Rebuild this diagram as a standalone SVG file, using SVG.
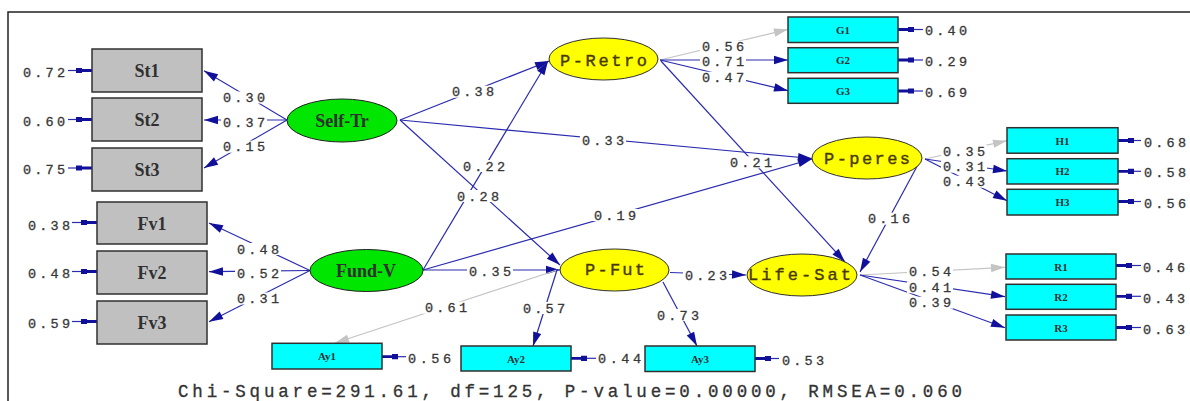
<svg xmlns="http://www.w3.org/2000/svg" width="1190" height="401" viewBox="0 0 1190 401">
<style>
.ln{stroke:#2b2bb0;stroke-width:1.2;fill:none}
.lg{stroke:#c4c4c4;stroke-width:1.2;fill:none}
.t{font-family:"Liberation Mono",monospace;font-size:13.5px;fill:#383838;stroke:#383838;stroke-width:0.3}
.bg{fill:#fff}
.gbox{fill:#c0c0c0;stroke:#303030;stroke-width:1.5}
.cbox{fill:#00ffff;stroke:#303030;stroke-width:1.5}
.gr{fill:#00e600;stroke:#202020;stroke-width:1}
.ye{fill:#ffff00;stroke:#303030;stroke-width:1}
.sn{font-family:"Liberation Serif",serif;font-weight:bold;font-size:18px;fill:#303030;text-anchor:middle}
.cn{font-family:"Liberation Mono",monospace;font-size:17px;fill:#4a3a00;stroke:#4a3a00;stroke-width:0.4}
.sm{font-family:"Liberation Serif",serif;font-weight:bold;font-size:11px;fill:#303030;text-anchor:middle}
.fit{font-family:"Liberation Mono",monospace;font-size:17.5px;fill:#333;stroke:#333;stroke-width:0.3}
</style>
<defs>
<marker id="ah" viewBox="-15 -5 16 10" refX="0" refY="0" markerWidth="16" markerHeight="10" markerUnits="userSpaceOnUse" orient="auto"><path d="M0,0 L-14,-4.2 L-14,4.2 z" fill="#10109a"/></marker>
<marker id="ag" viewBox="-15 -5 16 10" refX="0" refY="0" markerWidth="16" markerHeight="10" markerUnits="userSpaceOnUse" orient="auto"><path d="M0,0 L-14,-4.2 L-14,4.2 z" fill="#c4c4c4"/></marker>
<marker id="ae" viewBox="-18 -4 19 8" refX="0" refY="0" markerWidth="19" markerHeight="8" markerUnits="userSpaceOnUse" orient="auto"><path d="M0,-1.4 L-10,-1.4 L-10,-2.6 L-16,-2.6 L-16,2.6 L-10,2.6 L-10,1.4 L0,1.4 z" fill="#10109a"/></marker>
</defs>
<rect width="1190" height="401" fill="#fff"/>
<path d="M8,401 L8,12 L1190,12" fill="none" stroke="#222" stroke-width="1.5"/>

<g id="connectors">
<path class="ln" d="M287,120 L204,70.7" marker-end="url(#ah)"/>
<path class="ln" d="M287,120 L204,120" marker-end="url(#ah)"/>
<path class="ln" d="M287,120 L204,168" marker-end="url(#ah)"/>
<path class="ln" d="M310,270.5 L209,223" marker-end="url(#ah)"/>
<path class="ln" d="M310,270.5 L209,271.7" marker-end="url(#ah)"/>
<path class="ln" d="M310,270.5 L209,321.7" marker-end="url(#ah)"/>
<path class="ln" d="M400,120 L549,61" marker-end="url(#ah)"/>
<path class="ln" d="M400,120 L812,158.5" marker-end="url(#ah)"/>
<path class="ln" d="M400,120 L560,265" marker-end="url(#ah)"/>
<path class="ln" d="M423,270 L548,61" marker-end="url(#ah)"/>
<path class="ln" d="M423,270 L812,159" marker-end="url(#ah)"/>
<path class="ln" d="M423,270 L560,270" marker-end="url(#ah)"/>
<path class="ln" d="M661,61 L845,262" marker-end="url(#ah)"/>
<path class="ln" d="M921,159 L860,272" marker-end="url(#ah)"/>
<path class="ln" d="M670,272.5 L746,275" marker-end="url(#ah)"/>
<path class="lg" d="M660,60 L788,29.3" marker-end="url(#ag)"/>
<path class="ln" d="M660,60 L788,60" marker-end="url(#ah)"/>
<path class="ln" d="M660,60 L788,90.7" marker-end="url(#ah)"/>
<path class="lg" d="M925,159 L1007,140.7" marker-end="url(#ag)"/>
<path class="ln" d="M925,159 L1007,171" marker-end="url(#ah)"/>
<path class="ln" d="M925,159 L1007,200.7" marker-end="url(#ah)"/>
<path class="lg" d="M860,275 L1005,267.3" marker-end="url(#ag)"/>
<path class="ln" d="M860,275 L1005,296.7" marker-end="url(#ah)"/>
<path class="ln" d="M860,275 L1005,327.7" marker-end="url(#ah)"/>
<path class="lg" d="M557,270 L335,343" marker-end="url(#ag)"/>
<path class="ln" d="M557,270 L533,346" marker-end="url(#ah)"/>
<path class="ln" d="M663,282 L697,346" marker-end="url(#ah)"/>
<path class="ln" d="M68,70.5 L92,70.5" marker-end="url(#ae)"/>
<path class="ln" d="M68,119.5 L92,119.5" marker-end="url(#ae)"/>
<path class="ln" d="M68,168 L92,168" marker-end="url(#ae)"/>
<path class="ln" d="M72,222.5 L97,222.5" marker-end="url(#ae)"/>
<path class="ln" d="M72,271.5 L97,271.5" marker-end="url(#ae)"/>
<path class="ln" d="M72,321.5 L97,321.5" marker-end="url(#ae)"/>
<path class="ln" d="M923,29.5 L898,29.5" marker-end="url(#ae)"/>
<path class="ln" d="M923,60 L898,60" marker-end="url(#ae)"/>
<path class="ln" d="M923,91 L898,91" marker-end="url(#ae)"/>
<path class="ln" d="M1141,140.5 L1118,140.5" marker-end="url(#ae)"/>
<path class="ln" d="M1141,171.3 L1118,171.3" marker-end="url(#ae)"/>
<path class="ln" d="M1141,201.5 L1118,201.5" marker-end="url(#ae)"/>
<path class="ln" d="M1141,265.5 L1116,265.5" marker-end="url(#ae)"/>
<path class="ln" d="M1141,296.3 L1116,296.3" marker-end="url(#ae)"/>
<path class="ln" d="M1141,327.5 L1116,327.5" marker-end="url(#ae)"/>
<path class="ln" d="M406,356.7 L382,356.7" marker-end="url(#ae)"/>
<path class="ln" d="M596,358.3 L571,358.3" marker-end="url(#ae)"/>
<path class="ln" d="M779,358.5 L755,358.5" marker-end="url(#ae)"/>

<g id="labels">
<rect class="bg" x="221" y="91.5" width="46" height="12"/><text class="t" x="223" y="102" textLength="42">0.30</text>
<rect class="bg" x="221" y="116.5" width="46" height="12"/><text class="t" x="223" y="127" textLength="42">0.37</text>
<rect class="bg" x="221" y="140.7" width="46" height="12"/><text class="t" x="223" y="151.2" textLength="42">0.15</text>
<rect class="bg" x="235" y="243" width="46" height="12"/><text class="t" x="237" y="253.5" textLength="42">0.48</text>
<rect class="bg" x="235" y="267" width="46" height="12"/><text class="t" x="237" y="277.5" textLength="42">0.52</text>
<rect class="bg" x="235" y="292.5" width="46" height="12"/><text class="t" x="237" y="303" textLength="42">0.31</text>
<text class="t" x="23" y="76.5" textLength="42">0.72</text>
<text class="t" x="23" y="126" textLength="42">0.60</text>
<text class="t" x="23" y="174" textLength="42">0.75</text>
<text class="t" x="28" y="229.5" textLength="42">0.38</text>
<text class="t" x="28" y="277.8" textLength="42">0.48</text>
<text class="t" x="28" y="327.5" textLength="42">0.59</text>
<rect class="bg" x="450" y="85.7" width="46" height="12"/><text class="t" x="452" y="96.2" textLength="42">0.38</text>
<rect class="bg" x="580" y="134.7" width="46" height="12"/><text class="t" x="582" y="145.2" textLength="42">0.33</text>
<rect class="bg" x="461" y="160" width="46" height="12"/><text class="t" x="463" y="170.5" textLength="42">0.22</text>
<rect class="bg" x="455" y="190" width="46" height="12"/><text class="t" x="457" y="200.5" textLength="42">0.28</text>
<rect class="bg" x="592" y="209" width="46" height="12"/><text class="t" x="594" y="219.5" textLength="42">0.19</text>
<rect class="bg" x="467" y="265.7" width="46" height="12"/><text class="t" x="469" y="276.2" textLength="42">0.35</text>
<rect class="bg" x="728" y="156.3" width="46" height="12"/><text class="t" x="730" y="166.8" textLength="42">0.21</text>
<rect class="bg" x="866" y="212.7" width="46" height="12"/><text class="t" x="868" y="223.2" textLength="42">0.16</text>
<rect class="bg" x="683" y="269" width="46" height="12"/><text class="t" x="685" y="279.5" textLength="42">0.23</text>
<rect class="bg" x="700" y="40.7" width="46" height="12"/><text class="t" x="702" y="51.2" textLength="42">0.56</text>
<rect class="bg" x="700" y="55.7" width="46" height="12"/><text class="t" x="702" y="66.2" textLength="42">0.71</text>
<rect class="bg" x="700" y="71.7" width="46" height="12"/><text class="t" x="702" y="82.2" textLength="42">0.47</text>
<rect class="bg" x="941" y="145" width="46" height="12"/><text class="t" x="943" y="155.5" textLength="42">0.35</text>
<rect class="bg" x="941" y="160.7" width="46" height="12"/><text class="t" x="943" y="171.2" textLength="42">0.31</text>
<rect class="bg" x="941" y="175.7" width="46" height="12"/><text class="t" x="943" y="186.2" textLength="42">0.43</text>
<rect class="bg" x="907" y="265.7" width="46" height="12"/><text class="t" x="909" y="276.2" textLength="42">0.54</text>
<rect class="bg" x="907" y="281.3" width="46" height="12"/><text class="t" x="909" y="291.8" textLength="42">0.41</text>
<rect class="bg" x="907" y="296.7" width="46" height="12"/><text class="t" x="909" y="307.2" textLength="42">0.39</text>
<rect class="bg" x="423" y="301.7" width="46" height="12"/><text class="t" x="425" y="312.2" textLength="42">0.61</text>
<rect class="bg" x="521" y="302" width="46" height="12"/><text class="t" x="523" y="312.5" textLength="42">0.57</text>
<rect class="bg" x="655" y="309" width="46" height="12"/><text class="t" x="657" y="319.5" textLength="42">0.73</text>
<text class="t" x="925" y="35" textLength="42">0.40</text>
<text class="t" x="925" y="65.5" textLength="42">0.29</text>
<text class="t" x="925" y="96.5" textLength="42">0.69</text>
<text class="t" x="1144" y="146.5" textLength="42">0.68</text>
<text class="t" x="1144" y="177" textLength="42">0.58</text>
<text class="t" x="1144" y="208" textLength="42">0.56</text>
<text class="t" x="1143" y="272.2" textLength="42">0.46</text>
<text class="t" x="1143" y="302.8" textLength="42">0.43</text>
<text class="t" x="1143" y="333.8" textLength="42">0.63</text>
<text class="t" x="408" y="362.8" textLength="43">0.56</text>
<text class="t" x="598" y="362.8" textLength="43">0.44</text>
<text class="t" x="782" y="364.5" textLength="42">0.53</text>
</g>
</g>

<g id="St1"><rect class="gbox" x="92" y="49" width="110" height="43"/><text class="sn" x="147" y="76.5">St1</text></g>
<g id="St2"><rect class="gbox" x="92" y="98" width="110" height="43"/><text class="sn" x="147" y="125.5">St2</text></g>
<g id="St3"><rect class="gbox" x="92" y="148" width="110" height="43"/><text class="sn" x="147" y="175.5">St3</text></g>
<g id="Fv1"><rect class="gbox" x="97" y="202" width="110" height="42"/><text class="sn" x="152" y="229.5">Fv1</text></g>
<g id="Fv2"><rect class="gbox" x="97" y="251" width="110" height="43"/><text class="sn" x="152" y="279">Fv2</text></g>
<g id="Fv3"><rect class="gbox" x="97" y="301" width="110" height="43"/><text class="sn" x="152" y="329">Fv3</text></g>

<g id="Self-Tr"><ellipse class="gr" cx="342" cy="120.5" rx="55" ry="21.5"/><text class="sn" x="342" y="127">Self-Tr</text></g>
<g id="Fund-V"><ellipse class="gr" cx="366.5" cy="270.5" rx="56.5" ry="21"/><text class="sn" x="366" y="277">Fund-V</text></g>

<g id="P-Retro"><ellipse class="ye" cx="603.5" cy="59" rx="54.5" ry="21"/><text class="cn" x="560" y="65.5" textLength="87">P-Retro</text></g>
<g id="P-peres"><ellipse class="ye" cx="867" cy="158" rx="55" ry="21"/><text class="cn" x="824" y="163.5" textLength="86">P-peres</text></g>
<g id="P-Fut"><ellipse class="ye" cx="614.5" cy="270" rx="54.5" ry="21"/><text class="cn" x="585" y="274.5" textLength="60">P-Fut</text></g>
<g id="Life-Sat"><ellipse class="ye" cx="802" cy="275" rx="55" ry="21"/><text class="cn" x="748" y="280" textLength="103">Life-Sat</text></g>

<g id="G1"><rect class="cbox" x="788" y="17" width="110" height="25.5"/><text class="sm" x="843" y="33.5">G1</text></g>
<g id="G2"><rect class="cbox" x="788" y="47.7" width="110" height="25"/><text class="sm" x="843" y="64.2">G2</text></g>
<g id="G3"><rect class="cbox" x="788" y="78.3" width="110" height="25"/><text class="sm" x="843" y="94.8">G3</text></g>
<g id="H1"><rect class="cbox" x="1007" y="127.7" width="111" height="25.5"/><text class="sm" x="1062.5" y="144.5">H1</text></g>
<g id="H2"><rect class="cbox" x="1007" y="158.7" width="111" height="25.3"/><text class="sm" x="1062.5" y="175.3">H2</text></g>
<g id="H3"><rect class="cbox" x="1007" y="189.3" width="111" height="25.7"/><text class="sm" x="1062.5" y="206">H3</text></g>
<g id="R1"><rect class="cbox" x="1006" y="254" width="110" height="25"/><text class="sm" x="1061" y="270.5">R1</text></g>
<g id="R2"><rect class="cbox" x="1006" y="284.3" width="110" height="25"/><text class="sm" x="1061" y="300.8">R2</text></g>
<g id="R3"><rect class="cbox" x="1006" y="315" width="110" height="25"/><text class="sm" x="1061" y="331.5">R3</text></g>
<g id="Ay1"><rect class="cbox" x="272" y="343.3" width="110" height="25.7"/><text class="sm" x="327" y="360">Ay1</text></g>
<g id="Ay2"><rect class="cbox" x="461" y="346" width="110" height="25"/><text class="sm" x="516" y="362.5">Ay2</text></g>
<g id="Ay3"><rect class="cbox" x="645" y="346" width="110" height="25.5"/><text class="sm" x="700" y="362.7">Ay3</text></g>

<text class="fit" x="178" y="396.5" textLength="784">Chi-Square=291.61, df=125, P-value=0.00000, RMSEA=0.060</text>
</svg>
